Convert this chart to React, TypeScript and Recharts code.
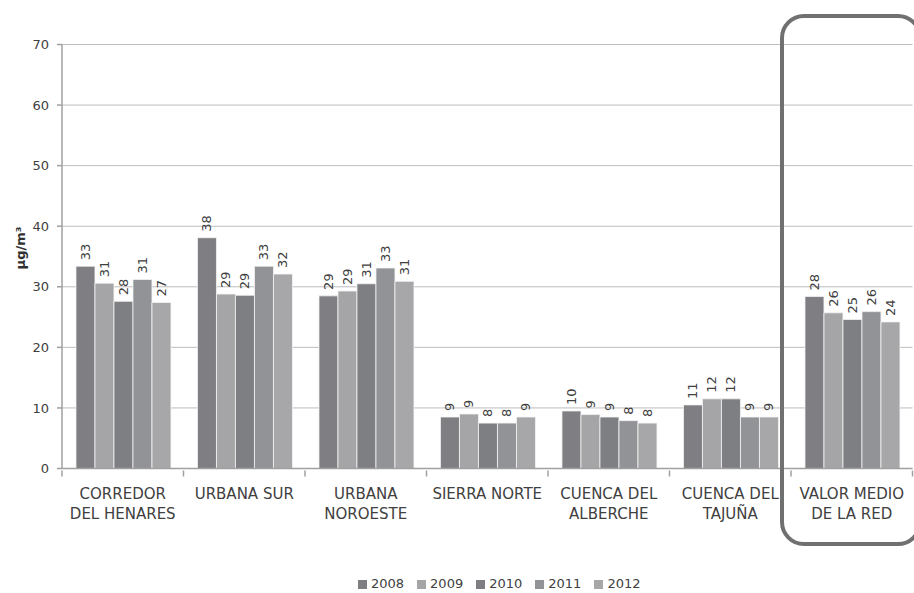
import React from 'react';
import {
  BarChart,
  Bar,
  XAxis,
  YAxis,
  CartesianGrid,
  LabelList,
} from 'recharts';

// Zones (x categories), "\n" marks a line break in the tick label
const zones = [
  'CORREDOR\nDEL HENARES',
  'URBANA SUR',
  'URBANA\nNOROESTE',
  'SIERRA NORTE',
  'CUENCA DEL\nALBERCHE',
  'CUENCA DEL\nTAJUÑA',
  'VALOR MEDIO\nDE LA RED',
];

// Yearly averages, µg/m³
const v2008 = [33.4, 38.1, 28.5, 8.5, 9.5, 10.5, 28.4];
const v2009 = [30.6, 28.8, 29.3, 9.0, 8.9, 11.5, 25.7];
const v2010 = [27.6, 28.6, 30.5, 7.5, 8.5, 11.5, 24.6];
const v2011 = [31.2, 33.4, 33.1, 7.5, 7.9, 8.5, 25.9];
const v2012 = [27.4, 32.1, 30.9, 8.5, 7.5, 8.5, 24.2];

const yTicks = [0, 10, 20, 30, 40, 50, 60, 70];

const series = [
  { key: '2008', values: v2008, color: '#7f7f83' },
  { key: '2009', values: v2009, color: '#a5a5a8' },
  { key: '2010', values: v2010, color: '#7e7f83' },
  { key: '2011', values: v2011, color: '#929396' },
  { key: '2012', values: v2012, color: '#a7a7aa' },
];

const data = zones.map((name, i) => {
  const row: any = { name };
  series.forEach((s) => {
    row[s.key] = s.values[i];
  });
  return row;
});

const FONT = '"DejaVu Sans", Verdana, sans-serif';
const TEXT = '#404040';
const AXIS = '#a0a0a0';
const CAT_W = 850.5 / zones.length;

const ZoneTick = ({ x, y, payload, index }: any) => {
  const lines = String(payload.value).split('\n');
  return (
    <g>
      <line x1={x - CAT_W / 2} x2={x - CAT_W / 2} y1={y} y2={y + 6} stroke={AXIS} strokeWidth={1.5} />
      {index === zones.length - 1 && (
        <line x1={x + CAT_W / 2} x2={x + CAT_W / 2} y1={y} y2={y + 6} stroke={AXIS} strokeWidth={1.5} />
      )}
      <text x={x} y={y + 28} textAnchor="middle" fontSize={15} fill={TEXT} fontFamily={FONT}>
        {lines.map((l, i) => (
          <tspan key={i} x={x} dy={i === 0 ? 0 : 20}>
            {l}
          </tspan>
        ))}
      </text>
    </g>
  );
};

const RotLabel = ({ x, y, width, value }: any) => {
  const cx = x + width / 2;
  const ty = y - 6;
  return (
    <text
      x={cx}
      y={ty}
      transform={`rotate(-90 ${cx} ${ty})`}
      textAnchor="start"
      dominantBaseline="central"
      fontSize={13}
      fill={TEXT}
      fontFamily={FONT}
    >
      {Math.round(value)}
    </text>
  );
};

export default function App() {
  return (
    <div
      style={{
        position: 'absolute',
        left: 0,
        top: 0,
        width: 914,
        height: 593,
        background: '#fff',
        fontFamily: FONT,
        overflow: 'hidden',
      }}
    >
      <BarChart
        width={914}
        height={593}
        data={data}
        margin={{ top: 44.5, right: 1.5, bottom: 0, left: 0 }}
        barCategoryGap="11.5%"
        barGap={0}
      >
        <CartesianGrid vertical={false} stroke="#bdbdbd" strokeWidth={1} />
        <XAxis
          dataKey="name"
          interval={0}
          tickLine={false}
          tickSize={0}
          axisLine={{ stroke: AXIS, strokeWidth: 1.5 }}
          tick={<ZoneTick />}
          height={124.5}
        />
        <YAxis
          domain={[0, 70]}
          ticks={yTicks}
          width={62}
          tickSize={5}
          tickMargin={8}
          tickLine={{ stroke: AXIS, strokeWidth: 1.5 }}
          axisLine={{ stroke: AXIS, strokeWidth: 1.5 }}
          tick={{ fill: TEXT, fontSize: 13, fontFamily: FONT }}
          label={() => (
            <text
              x={20}
              y={248}
              transform="rotate(-90 20 248)"
              textAnchor="middle"
              dominantBaseline="central"
              fontSize={13}
              fontWeight="bold"
              fill="#303030"
              fontFamily={FONT}
            >
              µg/m³
            </text>
          )}
        />
        {series.map((s) => (
          <Bar
            key={s.key}
            dataKey={s.key}
            fill={s.color}
            stroke="#f4f4f4"
            strokeWidth={0.8}
            isAnimationActive={false}
          >
            <LabelList dataKey={s.key} content={<RotLabel />} />
          </Bar>
        ))}
      </BarChart>

      {/* highlight box around the network average */}
      <div
        style={{
          position: 'absolute',
          left: 780,
          top: 14,
          width: 134,
          height: 524,
          border: '4.5px solid #707070',
          borderRadius: 24,
          pointerEvents: 'none',
        }}
      />

      <div
        style={{
          position: 'absolute',
          left: 358,
          top: 576,
          display: 'flex',
          gap: 13,
          fontSize: 13,
          color: TEXT,
          lineHeight: '16px',
        }}
      >
        {series.map((s) => (
          <div key={s.key} style={{ display: 'flex', alignItems: 'center', gap: 4 }}>
            <span style={{ width: 9, height: 9, background: s.color, display: 'inline-block' }} />
            <span>{s.key}</span>
          </div>
        ))}
      </div>
    </div>
  );
}
